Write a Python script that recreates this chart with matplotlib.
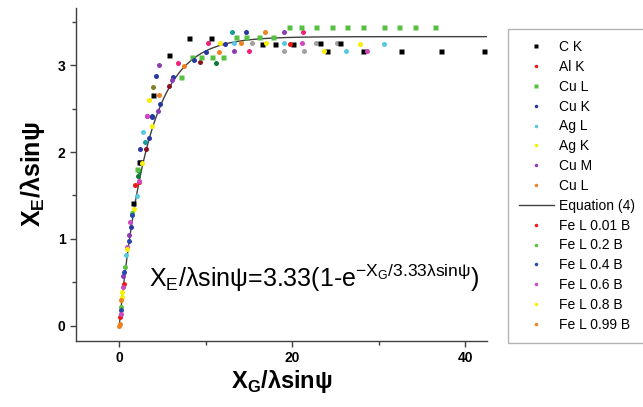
import matplotlib
matplotlib.use('Agg')
import matplotlib.pyplot as plt
import numpy as np

plt.rcParams['font.family'] = ['Liberation Sans', 'DejaVu Sans']
plt.rcParams['mathtext.fontset'] = 'custom'
plt.rcParams['mathtext.rm'] = 'Liberation Sans'
plt.rcParams['mathtext.bf'] = 'Liberation Sans:bold'

# ---- data ----
ck_x = [8.07, 10.6, 5.8, 3.87, 2.28, 2.4, 1.55, 16.5, 18.0, 20.1, 23.2, 25.5, 24.0, 28.2, 32.6, 37.2, 42.2]
ck_y = [3.31, 3.31, 3.12, 2.66, 1.89, 1.89, 1.41, 3.25, 3.25, 3.25, 3.26, 3.26, 3.17, 3.17, 3.17, 3.17, 3.17]
alk_x = [1.8, 19.8]
alk_y = [1.62, 3.25]
cul_x = [19.6, 21.0, 22.8, 24.6, 26.4, 28.2, 30.6, 32.4, 34.2, 36.5, 13.5, 14.7, 16.2, 17.8, 10.7, 12.0, 8.4, 9.5, 7.2, 2.1]
cul_y = [3.44, 3.44, 3.44, 3.44, 3.44, 3.44, 3.44, 3.44, 3.44, 3.44, 3.33, 3.33, 3.33, 3.33, 3.10, 3.10, 3.10, 3.10, 2.87, 1.80]
cuk_x = [14.7, 12.2, 10.0, 8.6, 6.2, 4.25, 4.7, 3.75, 3.5, 2.4, 1.32, 3.8]
cuk_y = [3.38, 3.25, 3.15, 3.06, 2.87, 2.88, 2.55, 2.40, 2.16, 2.04, 1.14, 2.41]
agl_x = [13.3, 19.0, 26.2, 2.7, 30.6, 0.78, 2.0]
agl_y = [3.26, 3.26, 3.16, 2.23, 3.25, 0.82, 1.49]
agk_x = [11.7, 17.0, 3.5, 23.7, 2.6, 27.8, 0.28, 1.74, 3.75]
agk_y = [3.26, 3.26, 2.60, 3.17, 1.87, 3.25, 0.39, 1.35, 2.30]
cum_x = [19.0, 13.3, 4.6, 6.1, 3.2, 4.5, 0.46, 1.16]
cum_y = [3.38, 3.16, 3.0, 2.83, 2.42, 2.47, 0.57, 1.05]
cul2_x = [16.9, 11.5, 7.5, 4.6, 14.1, 0.0]
cul2_y = [3.38, 3.15, 2.99, 2.66, 3.26, 0.0]

fe001_x = [0.1, 0.5, 2.3]
fe001_y = [0.1, 0.48, 1.66]
fe02_x = [0.2, 0.7, 1.5]
fe02_y = [0.22, 0.68, 1.3]
fe04_x = [0.15, 0.6, 1.1, 1.45]
fe04_y = [0.18, 0.62, 0.98, 1.28]
fe06_x = [0.16, 0.93, 2.3, 3.2, 0.4, 1.3, 21.1, 28.6]
fe06_y = [0.14, 0.91, 1.67, 2.42, 0.45, 1.2, 3.26, 3.16]
fe08_x = [0.3, 0.9]
fe08_y = [0.33, 0.88]
fe099_x = [0.05, 0.22]
fe099_y = [0.02, 0.3]

# points with colours that have no legend entry
teal_x = [13.0, 3.0]
teal_y = [3.38, 2.12]
dkgreen_x = [11.2, 2.3, 2.2]
dkgreen_y = [3.03, 1.78, 1.72]
dkred_x = [5.7, 9.3, 3.05]
dkred_y = [2.76, 3.04, 2.03]
grey_x = [15.4, 19.1, 21.4, 22.8, 25.2]
grey_y = [3.26, 3.16, 3.16, 3.26, 3.26]
olive_x = [3.87]
olive_y = [2.75]
pink_x = [21.2, 15.0, 6.76, 10.3]
pink_y = [3.38, 3.16, 3.03, 3.26]

A = 3.33  # Equation (4) constant

fig = plt.figure(figsize=(6.43, 4.07), dpi=100)
ax = fig.add_axes([76/643, 1-340.7/407, (486.7-76)/643, (340.7-8)/407])

ms = 3.6
for xs, ys, c in [(teal_x, teal_y, '#1a9a9a'), (dkgreen_x, dkgreen_y, '#0e7a3a'),
                  (dkred_x, dkred_y, '#8a1020'), (grey_x, grey_y, '#a0a0a0'),
                  (olive_x, olive_y, '#808020'), (pink_x, pink_y, '#f0207a')]:
    ax.plot(xs, ys, 'o', color=c, ms=ms, mec='none')

ax.plot(ck_x, ck_y, 's', color='black', ms=ms, mec='none', label='C K')
ax.plot(alk_x, alk_y, 'o', color='#f01818', ms=ms, mec='none', label='Al K')
ax.plot(cul_x, cul_y, 's', color='#58c040', ms=ms, mec='none', label='Cu L')
ax.plot(cuk_x, cuk_y, 'o', color='#2838a0', ms=ms, mec='none', label='Cu K')
ax.plot(agl_x, agl_y, 'o', color='#58c8e0', ms=ms, mec='none', label='Ag L')
ax.plot(agk_x, agk_y, 'o', color='#f8f000', ms=ms, mec='none', label='Ag K')
ax.plot(cum_x, cum_y, 'o', color='#8a3cb0', ms=ms, mec='none', label='Cu M')
ax.plot(cul2_x, cul2_y, 'o', color='#f08020', ms=ms, mec='none', label='Cu L')

xc = np.linspace(0, 42.5, 300)
ax.plot(xc, A*(1-np.exp(-xc/A)), color='#404040', lw=1.0, label='Equation (4)', zorder=1)

ax.plot(fe001_x, fe001_y, 'o', color='#f01818', ms=ms, mec='none', label='Fe L 0.01 B')
ax.plot(fe02_x, fe02_y, 'o', color='#58c040', ms=ms, mec='none', label='Fe L 0.2 B')
ax.plot(fe04_x, fe04_y, 'o', color='#2848b0', ms=ms, mec='none', label='Fe L 0.4 B')
ax.plot(fe06_x, fe06_y, 'o', color='#d048c0', ms=ms, mec='none', label='Fe L 0.6 B')
ax.plot(fe08_x, fe08_y, 'o', color='#f8f000', ms=ms, mec='none', label='Fe L 0.8 B')
ax.plot(fe099_x, fe099_y, 'o', color='#f08020', ms=ms, mec='none', label='Fe L 0.99 B')

ax.set_xlim(-5, 42.5)
ax.set_ylim(-0.173, 3.66)
for s in ['top', 'right']:
    ax.spines[s].set_visible(False)
for s in ['left', 'bottom']:
    ax.spines[s].set_color('#404040')
    ax.spines[s].set_linewidth(1.0)
ax.set_xticks([0, 20, 40])
ax.set_xticks([10, 30], minor=True)
ax.set_yticks([0, 1, 2, 3])
ax.set_yticks([0.5, 1.5, 2.5, 3.5], minor=True)
ax.tick_params(which='both', direction='out', color='#404040', width=1.0)
ax.tick_params(which='major', length=4, labelsize=10)
ax.tick_params(which='minor', length=3)
for lab in ax.get_xticklabels() + ax.get_yticklabels():
    lab.set_fontweight('bold')

ax.set_xlabel(r'X$_{\mathbf{G}}$/λsinψ', fontsize=17, fontweight='bold', labelpad=2)
ax.set_ylabel(r'X$_{\mathbf{E}}$/λsinψ', fontsize=18, fontweight='bold', labelpad=8)

ax.text(3.5, 0.55, r'X$_\mathrm{E}$/λsinψ=3.33(1-e$^{\mathrm{-X_G/3.33λsinψ}}$)',
        fontsize=18, ha='left', va='center')

fig.legend(loc='upper left', bbox_to_anchor=(508/643, 1-29/407), borderaxespad=0,
           fontsize=10, frameon=True, fancybox=False, edgecolor='#a0a0a0',
           handlelength=2.5, handletextpad=0.4, labelspacing=0.42, markerscale=0.7,
           borderpad=0.8)

fig.savefig('out.png', dpi=100)
